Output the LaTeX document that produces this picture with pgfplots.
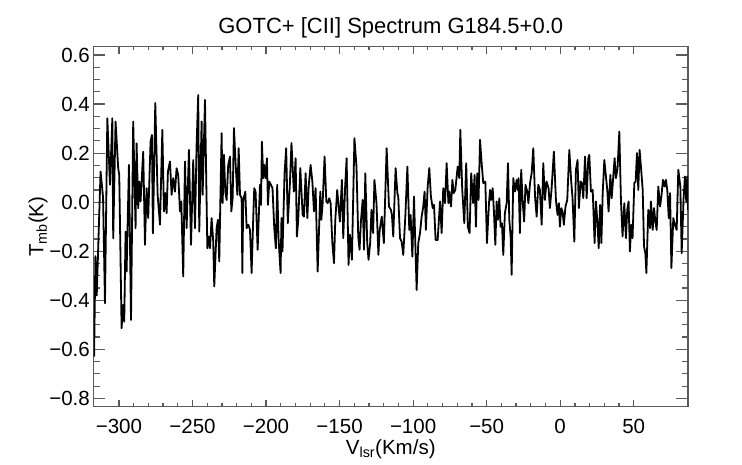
\documentclass[border=0pt]{standalone}
\usepackage{fontspec}
\setmainfont{Liberation Sans}
\usepackage{pgfplots}
\pgfplotsset{compat=1.18}
\definecolor{axgray}{RGB}{90,90,90}
\pgfplotstableread{
v t
-316.9 -0.630
-316.0 -0.220
-315.1 -0.380
-312.5 0.125
-310.8 0.020
-309.5 -0.412
-307.9 0.342
-306.1 0.071
-304.5 0.342
-303.9 -0.147
-302.3 0.329
-300.5 0.138
-299.8 0.111
-298.2 -0.514
-297.1 -0.419
-296.4 -0.487
-295.5 -0.120
-294.8 -0.283
-293.2 0.152
-291.8 -0.480
-290.3 0.329
-288.7 -0.106
-288.0 0.240
-286.9 -0.025
-286.2 0.084
-285.3 0.003
-283.5 0.206
-282.3 -0.174
-281.2 0.057
-280.1 -0.065
-278.5 0.247
-277.6 0.274
-276.9 -0.127
-275.3 0.404
-273.7 0.030
-272.1 -0.092
-270.5 0.295
-269.4 -0.038
-268.5 0.037
-267.6 -0.045
-266.7 0.125
-265.3 0.166
-264.2 0.030
-263.1 0.098
-261.9 0.043
-260.8 0.138
-259.7 0.111
-258.5 -0.038
-257.6 0.003
-256.3 -0.303
-255.1 0.166
-254.0 -0.106
-252.4 0.213
-251.0 -0.174
-249.5 0.172
-248.3 -0.106
-247.2 0.234
-246.1 0.437
-245.4 -0.120
-243.8 0.329
-243.1 0.030
-241.5 0.417
-239.9 -0.188
-239.0 -0.140
-238.1 -0.188
-237.0 -0.065
-235.9 -0.160
-235.2 -0.344
-233.6 -0.106
-232.7 -0.072
-231.8 -0.242
-230.2 0.281
-229.5 -0.004
-228.6 0.193
-227.7 0.043
-226.8 0.009
-225.7 0.152
-224.5 0.186
-223.6 -0.038
-222.7 0.016
-221.8 0.302
-220.7 0.159
-219.5 0.030
-218.6 0.220
-217.7 0.030
-216.6 0.016
-216.1 -0.289
-215.5 0.009
-214.1 0.043
-213.2 -0.106
-212.0 -0.092
-210.9 -0.113
-209.8 -0.289
-208.7 -0.065
-208.0 0.057
-207.1 0.043
-205.7 -0.194
-204.8 -0.038
-204.1 0.071
-203.4 -0.011
-202.8 0.247
-201.9 0.098
-201.2 0.152
-200.3 0.098
-199.4 0.179
-198.7 -0.011
-197.8 0.084
-196.7 0.071
-195.6 0.057
-194.4 -0.106
-193.3 -0.188
-192.4 0.071
-191.5 -0.147
-190.1 -0.289
-189.5 -0.065
-188.8 -0.201
-187.4 0.118
-186.3 0.220
-185.2 -0.086
-183.8 0.071
-182.7 0.241
-181.1 0.043
-179.9 0.179
-179.0 -0.140
-178.1 -0.072
-176.7 0.139
-175.1 -0.052
-174.2 -0.059
-173.1 0.118
-171.9 -0.065
-171.0 0.064
-169.7 0.152
-168.5 0.084
-167.4 -0.038
-166.3 0.057
-164.9 -0.283
-163.1 0.043
-162.4 -0.072
-161.5 -0.004
-160.2 0.186
-159.0 0.003
-158.1 -0.004
-157.0 0.016
-156.1 -0.004
-154.9 -0.167
-153.8 -0.249
-152.9 -0.072
-151.6 0.050
-149.8 -0.079
-148.4 0.091
-147.5 -0.147
-146.2 0.064
-145.2 0.179
-143.9 -0.256
-143.0 -0.133
-141.6 -0.235
-139.9 0.261
-138.5 0.145
-137.3 -0.140
-136.4 -0.194
-135.5 -0.079
-134.3 0.009
-133.4 -0.194
-132.5 0.118
-131.2 -0.167
-130.3 -0.235
-129.2 -0.167
-128.3 -0.031
-127.2 -0.126
-126.3 0.091
-124.9 -0.004
-123.6 -0.215
-122.7 -0.113
-121.3 -0.059
-119.9 -0.167
-118.0 0.220
-116.4 -0.018
-115.1 -0.031
-114.4 -0.052
-113.5 -0.140
-111.9 0.139
-110.7 0.037
-110.1 0.023
-108.9 -0.147
-107.8 -0.161
-106.7 -0.215
-105.3 -0.059
-103.9 0.145
-102.6 -0.113
-101.7 -0.052
-100.5 -0.222
-99.4 0.023
-98.5 -0.167
-97.6 -0.358
-96.5 -0.167
-95.3 -0.126
-94.2 -0.059
-93.1 -0.018
-92.2 0.043
-91.3 -0.113
-90.1 0.064
-89.0 0.139
-87.9 0.023
-86.7 -0.024
-85.8 -0.011
-84.7 -0.154
-83.3 -0.154
-81.7 0.003
-80.6 -0.126
-79.5 0.057
-78.3 -0.004
-77.2 0.159
-76.0 -0.004
-75.4 0.043
-74.2 -0.018
-73.3 0.091
-72.4 0.037
-71.3 0.050
-69.7 0.145
-68.6 0.098
-67.9 0.295
-66.6 0.050
-65.2 -0.086
-63.9 0.159
-62.8 -0.100
-61.6 -0.126
-60.5 0.118
-59.2 -0.004
-58.2 0.111
-57.3 -0.100
-56.4 0.118
-55.5 0.009
-54.5 0.254
-53.4 0.159
-52.3 0.078
-50.9 0.084
-49.8 -0.167
-48.4 -0.004
-47.7 0.050
-47.0 0.009
-45.9 0.057
-45.0 -0.045
-44.1 -0.174
-43.2 0.003
-42.3 -0.072
-41.4 0.016
-40.5 -0.100
-39.6 -0.086
-38.7 -0.215
-37.6 -0.045
-36.4 -0.004
-35.5 0.159
-34.6 -0.072
-33.7 -0.140
-33.0 -0.296
-31.9 0.098
-30.8 0.043
-29.6 0.091
-29.0 0.050
-28.3 0.098
-27.4 -0.126
-26.5 0.132
-25.6 0.009
-24.5 -0.079
-23.6 0.071
-22.4 0.043
-21.6 -0.004
-20.5 0.078
-19.4 0.118
-18.3 0.220
-17.1 0.023
-16.0 -0.059
-14.9 0.071
-13.8 0.050
-12.6 -0.092
-11.5 0.159
-10.4 0.009
-9.3 0.084
-7.9 0.057
-7.0 -0.024
-5.9 0.050
-4.3 0.206
-2.9 0.009
-1.8 -0.052
-0.9 -0.004
-0.2 -0.100
0.7 -0.024
1.6 -0.038
2.5 -0.092
3.6 -0.018
4.8 0.009
6.2 0.213
7.5 0.084
8.4 0.016
9.6 -0.161
10.7 0.132
11.8 0.172
12.7 -0.024
13.9 0.084
14.8 0.078
15.7 0.016
16.9 0.186
18.0 0.016
19.1 0.179
19.8 0.193
20.9 0.043
22.1 0.050
23.4 -0.167
24.3 0.003
25.2 -0.072
26.2 -0.188
27.1 -0.011
28.0 -0.167
28.9 0.037
30.0 0.172
31.1 0.105
32.0 0.050
32.9 -0.038
34.1 0.111
35.0 0.016
36.1 0.105
37.0 0.179
37.9 0.098
39.0 0.139
40.2 0.288
41.3 0.009
42.4 -0.140
43.6 -0.004
44.7 -0.147
45.6 -0.031
46.5 0.003
47.4 -0.201
48.3 -0.092
49.2 -0.147
50.4 0.078
51.3 0.084
52.2 0.200
53.1 0.050
54.0 0.213
54.9 0.145
56.1 0.050
57.0 -0.181
57.9 -0.208
58.6 -0.289
59.9 -0.031
61.1 -0.106
61.7 0.003
62.9 -0.113
63.8 -0.024
64.7 -0.079
65.6 -0.113
66.7 0.064
67.9 -0.018
68.8 0.023
69.9 0.091
71.0 0.064
71.9 0.091
72.8 0.050
73.8 -0.065
74.7 0.037
75.6 -0.269
76.9 -0.065
78.0 -0.092
79.2 -0.113
80.3 0.132
81.7 0.064
82.6 -0.208
83.9 0.016
84.8 0.105
85.7 0.003
86.4 0.105
86.9 -0.031
}\spec
\begin{document}
\begin{tikzpicture}
\useasboundingbox (0,0) rectangle (742pt,464pt);
\pgfplotsset{
  common/.style={
    at={(93.5pt,57.3pt)}, anchor=south west,
    scale only axis, width=594.5pt, height=360pt,
    xmin=-317.3, xmax=86.9, ymin=-0.834, ymax=0.634,
    axis line style={color=axgray, line width=1.4pt},
    tick style={color=axgray, line width=1.2pt},
    tick align=inside, xtick pos=both, ytick pos=both,
  }
}
% y ticks and labels
\begin{axis}[common,
    xtick=\empty,
    ytick={-0.8,-0.6,-0.4,-0.2,0,0.2,0.4,0.6},
    yticklabels={−0.8,−0.6,−0.4,−0.2,0.0,0.2,0.4,0.6},
    minor ytick={-0.75,-0.7,-0.65,-0.55,-0.5,-0.45,-0.35,-0.3,-0.25,-0.15,-0.1,-0.05,0.05,0.1,0.15,0.25,0.3,0.35,0.45,0.5,0.55},
    major tick length=11.9pt, minor tick length=6pt,
    yticklabel pos=left,
    yticklabel style={font=\fontsize{20.5}{24}\selectfont, anchor=east, inner sep=0pt, xshift=-3.5pt},
    ylabel={T\textsubscript{mb}(K)},
    ylabel style={font=\fontsize{20.5}{24}\selectfont, at={(axis description cs:-0.0841,0.5)}, anchor=base, rotate=0},
]
\end{axis}
% x ticks, labels, data
\begin{axis}[common,
    ytick=\empty,
    xtick={-300,-250,-200,-150,-100,-50,0,50},
    xticklabels={−300,−250,−200,−150,−100,−50,0,50},
    minor x tick num=4,
    major tick length=7.2pt, minor tick length=3.8pt,
    xticklabel pos=lower,
    xticklabel style={font=\fontsize{20.5}{24}\selectfont, anchor=base, yshift=-27pt},
    xlabel={V\textsubscript{lsr}(Km/s)},
    xlabel style={font=\fontsize{20.5}{24}\selectfont, at={(axis description cs:0.5,-0.1333)}, anchor=base},
    title={GOTC+ [CII] Spectrum G184.5+0.0},
    title style={font=\fontsize{22}{26}\selectfont, at={(axis description cs:0.5,1.0206)}, anchor=base},
]
\addplot[black, line width=1.8pt, line join=round] table[x=v, y=t] {\spec};
\end{axis}
\end{tikzpicture}
\end{document}
